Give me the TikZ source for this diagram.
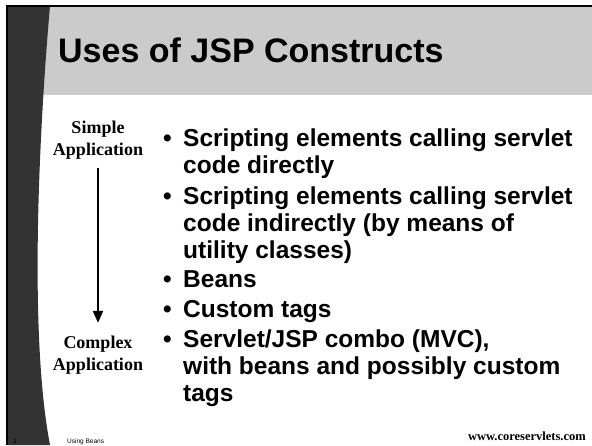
\documentclass[tikz,border=0pt]{standalone}
\usepackage{fontspec}
\setmainfont{Liberation Sans}
\newfontfamily\timesfont{Liberation Serif}
\usepackage{tikz}
\usetikzlibrary{arrows.meta}

\definecolor{headgray}{RGB}{203,203,203}
\definecolor{bandgray}{RGB}{51,51,51}

\begin{document}
\begin{tikzpicture}[x=1pt,y=-1pt,
    item/.style={anchor=base west, inner sep=0, align=left,
      font=\fontsize{24.5}{27}\selectfont\bfseries},
    dot/.style={anchor=base west, inner sep=0,
      font=\fontsize{24.5}{27}\selectfont\bfseries},
    lbl/.style={anchor=base, inner sep=0, align=center,
      font=\fontsize{18}{22}\selectfont\timesfont\bfseries}]
    \useasboundingbox (0,0) rectangle (592,445);

    % slide frame
    \fill[headgray] (8,7) rectangle (592,95);
    \fill[bandgray] (8,6) -- (50,6) .. controls (40,120) and (28,330) .. (50,445) -- (8,445) -- cycle;
    \draw[line width=2pt] (6,6) -- (592,6);
    \draw[line width=1.5pt] (7,5) -- (7,445);

    \node[anchor=base west, inner sep=0, font=\fontsize{34}{38}\selectfont\bfseries] (title) at (58,62) {Uses of JSP Constructs};

    % complexity scale (multi-line nodes sit on their last line)
    \node[lbl] (simple) at (98,155) {Simple\\Application};
    \node[lbl] (complex) at (98,370) {Complex\\Application};
    \draw[line width=2pt, -{Triangle[width=10pt,length=12pt]}, shorten <=8.5pt, shorten >=12.5pt] (simple) -- (complex);

    % bullets
    \node[dot] (d1) at (163,146) {•};
    \node[item] (b1) at (183,173) {Scripting elements calling servlet\\code directly};
    \node[dot] (d2) at (163,204) {•};
    \node[item] (b2) at (183,258) {Scripting elements calling servlet\\code indirectly (by means of\\utility classes)};
    \node[dot] (d3) at (163,287) {•};
    \node[item] (b3) at (183,287) {Beans};
    \node[dot] (d4) at (163,317) {•};
    \node[item] (b4) at (183,317) {Custom tags};
    \node[dot] (d5) at (163,347) {•};
    \node[item] (b5) at (183,401) {Servlet/JSP combo (MVC),\\with beans and possibly custom\\tags};

    % footer
    \node[anchor=base west, inner sep=0, font=\fontsize{6}{7}\selectfont] (pageno) at (13,443) {3};
    \node[anchor=base west, inner sep=0, font=\fontsize{6.5}{8}\selectfont] (topic) at (67,443) {Using Beans};
    \node[anchor=base east, inner sep=0, font=\fontsize{12.5}{14}\selectfont\timesfont\bfseries] (site) at (586,440) {www.coreservlets.com};
  \end{tikzpicture}
\end{document}
